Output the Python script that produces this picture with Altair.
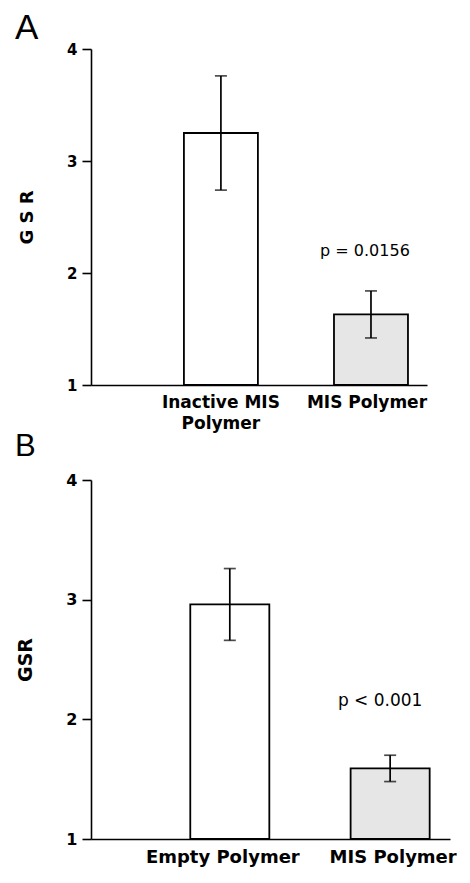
import altair as alt
import pandas as pd

# Panel A
cats_a = ["Inactive MIS Polymer", "MIS Polymer"]
gsr_a = [3.25, 1.63]
err_a = [0.51, 0.21]
p_a = "p = 0.0156"
p_a_y = 2.2

# Panel B
cats_b = ["Empty Polymer", "MIS Polymer"]
gsr_b = [2.96, 1.59]
err_b = [0.30, 0.11]
p_b = "p < 0.001"
p_b_y = 2.15

fills = ["white", "#e6e6e6"]
y_ticks = [1, 2, 3, 4]

BOLD = "DejaVu Sans"


def panel(cats, vals, errs, ptext, py, letter, ytitle, w, h, fs_tick, fs_cat, fs_title, fs_p,
          fs_letter, pdx, title_pad, letter_offset, off_first, off_second):
    df = pd.DataFrame({
        "cat": cats,
        "gsr": vals,
        "lo": [v - e for v, e in zip(vals, errs)],
        "hi": [v + e for v, e in zip(vals, errs)],
        "fill": fills,
    })
    xscale = alt.Scale(domain=cats, paddingInner=0.507, paddingOuter=0.373, align=0.83)
    x = alt.X("cat:N", scale=xscale, sort=cats,
              axis=alt.Axis(title=None, labelAngle=0, ticks=False, domainColor="black",
                            domainWidth=1.6, labelFont=BOLD, labelFontWeight="bold",
                            labelFontSize=fs_cat, labelColor="black", labelPadding=9,
                            labelLineHeight=fs_cat + 4, labelLimit=300,
                            labelOffset={"condition": {"test": f"datum.value == '{cats[1]}'",
                                                       "value": off_second},
                                         "value": off_first},
                            labelExpr="datum.label == 'Inactive MIS Polymer' ? ['Inactive MIS', 'Polymer'] : datum.label"))
    yscale = alt.Scale(domain=[1, 4], zero=False, nice=False)
    y = alt.Y("gsr:Q", scale=yscale,
              axis=alt.Axis(title=ytitle, values=y_ticks, format="d", grid=False,
                            domainColor="black", domainWidth=1.6, tickColor="black",
                            tickWidth=1.6, tickSize=9, labelFont=BOLD, labelFontWeight="bold",
                            labelFontSize=fs_tick, labelColor="black", labelPadding=5,
                            titleFont=BOLD, titleFontWeight="bold", titleFontSize=fs_title,
                            titleColor="black", titlePadding=title_pad))
    base = alt.Chart(df)
    bars = base.mark_bar(stroke="black", strokeWidth=1.8).encode(
        x=x, y=y, y2=alt.datum(1),
        fill=alt.Fill("fill:N", scale=None),
    )
    rule = base.mark_rule(color="black", strokeWidth=1.7).encode(
        x=alt.X("cat:N", scale=xscale, sort=cats), y=alt.Y("lo:Q", scale=yscale), y2="hi:Q")
    cap_lo = base.mark_tick(color="black", thickness=1.7, size=12, orient="horizontal").encode(
        x=alt.X("cat:N", scale=xscale, sort=cats), y=alt.Y("lo:Q", scale=yscale))
    cap_hi = base.mark_tick(color="black", thickness=1.7, size=12, orient="horizontal").encode(
        x=alt.X("cat:N", scale=xscale, sort=cats), y=alt.Y("hi:Q", scale=yscale))
    ptxt = alt.Chart(pd.DataFrame({"cat": [cats[1]], "y": [py], "t": [ptext]})).mark_text(
        font=BOLD, fontSize=fs_p, color="black", dx=pdx, baseline="middle").encode(
        x=alt.X("cat:N", scale=xscale, sort=cats), y=alt.Y("y:Q", scale=yscale), text="t:N")
    return alt.layer(bars, rule, cap_lo, cap_hi, ptxt).properties(
        width=w, height=h,
        title=alt.TitleParams(letter, anchor="start", dx=-76, fontSize=fs_letter,
                              font="Liberation Sans", fontWeight="normal", color="black",
                              baseline="alphabetic", offset=letter_offset, frame="group"),
    )


a = panel(cats_a, gsr_a, err_a, p_a, p_a_y, "A", "G S R", 336, 336, 15, 17, 18, 16, 35, -6, 30, -32, 0, -4)
b = panel(cats_b, gsr_b, err_b, p_b, p_b_y, "B", "GSR", 359, 359, 16, 18, 19, 17, 31, -10, 30, -15, -7, 3)

chart = alt.vconcat(a, b, spacing=0).properties(
    padding={"left": 7, "top": 3, "right": 0, "bottom": 5}
).configure(background="white").configure_view(stroke=None)

chart.save("out.html", embed_options={"renderer": "svg", "actions": False})
